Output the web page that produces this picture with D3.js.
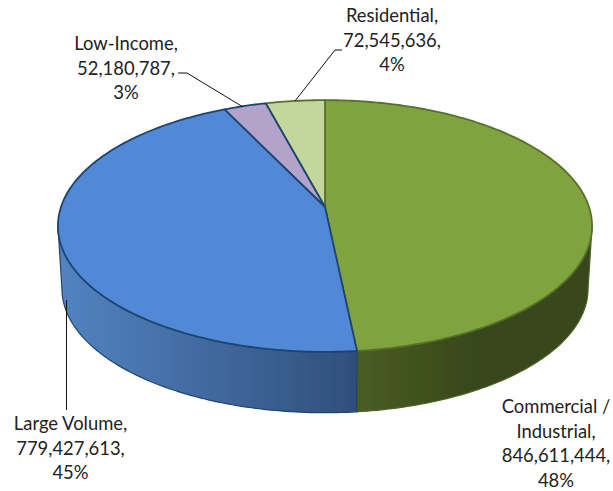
<!DOCTYPE html>
<html>
<head>
<meta charset="utf-8">
<script src="https://cdn.jsdelivr.net/npm/d3@7"></script>
<style>
  html, body { margin: 0; padding: 0; background: #fff; }
  text { font-family: Lato, "Open Sans", sans-serif; font-size: 18.4px; fill: #222; }
</style>
</head>
<body>
<svg id="chart" width="613" height="491"></svg>
<script>
const categories = ['Commercial / Industrial', 'Large Volume', 'Low-Income', 'Residential'];
const values = [846611444, 779427613, 52180787, 72545636];
const percents = ['48%', '45%', '3%', '4%'];
const topColors = ['#80a33f', '#5189d6', '#b3a2c9', '#c3d69b'];
const edgeColors = ['#55722a', '#1f4570', '#1f4570', '#55722a'];
const wallEdges = ['#4a6324', '#1f4570', '#1f4570', '#55722a'];
const sideStops = [
  ['#38471a', '#38471a', '#4a5d22'],
  ['#5383c2', '#41699f', '#2f4f7a'],
  ['#5a4a70', '#5a4a70', '#5a4a70'],
  ['#6c7a40', '#6c7a40', '#6c7a40']
];
const labelLines = [
  ['Commercial /', 'Industrial,', '846,611,444,', '48%'],
  ['Large Volume,', '779,427,613,', '45%'],
  ['Low-Income,', '52,180,787,', '3%'],
  ['Residential,', '72,545,636,', '4%']
];
const labelPos = [[556, 413], [70.5, 430], [126, 50], [392, 22]];
const leaders = [
  null,
  [[66.5, 300], [66.5, 410]],
  [[178, 73], [187, 73], [243, 107]],
  [[342, 50], [335, 50], [295, 101]]
];

const svg = d3.select('#chart');
const defs = svg.append('defs');

// perspective view of the pie disc: angle -> screen point
const cx = 325, cy = 207, kP = 0.151, rX = 264, rY = 123, depth = 63;
function project(a, shrink = 1, dy = 0) {
  const u = Math.sin(a), v = -Math.cos(a);
  const w = 1 - kP * v;
  return [cx + shrink * rX * u / w, cy + dy + shrink * rY * v / w];
}
function arcPoints(a0, a1, shrink, dy) {
  const n = Math.max(2, Math.ceil(Math.abs(a1 - a0) * 60));
  return d3.range(n + 1).map(i => project(a0 + (a1 - a0) * i / n, shrink, dy));
}
const line = d3.line();

const arcs = d3.pie().sort(null)(values);

defs.append('filter').attr('id', 'aa').append('feGaussianBlur').attr('stdDeviation', 0.4);

const pie = svg.append('g').attr('filter', 'url(#aa)');

// side wall runs between the two widest points of the disc
const frontFrom = Math.acos(-kP), frontTo = 2 * Math.PI - frontFrom;
const sideShrink = 0.985;
arcs.forEach((d, i) => {
  const a0 = Math.max(d.startAngle, frontFrom), a1 = Math.min(d.endAngle, frontTo);
  if (a1 <= a0) return;
  const top = arcPoints(a0, a1, 1, 0);
  const bottom = arcPoints(a1, a0, sideShrink, depth);
  const xs = top.concat(bottom).map(p => p[0]);
  const grad = defs.append('linearGradient').attr('id', 'side' + i)
    .attr('gradientUnits', 'userSpaceOnUse')
    .attr('x1', i === 1 ? d3.min(xs) : d3.max(xs)).attr('y1', 0)
    .attr('x2', i === 1 ? d3.max(xs) : d3.min(xs)).attr('y2', 0);
  sideStops[i].forEach((c, j) => {
    grad.append('stop').attr('offset', j / 2).attr('stop-color', c);
  });
  pie.append('path')
    .attr('d', line(top.concat(bottom)) + 'Z')
    .attr('fill', `url(#side${i})`)
    .attr('stroke', wallEdges[i])
    .attr('stroke-width', 1.2)
    .attr('stroke-linejoin', 'round');
});

// top faces; blue last so its dark edge sits on the neighbours like in the picture
[0, 3, 2, 1].forEach(i => {
  const d = arcs[i];
  const pts = [[cx, cy]].concat(arcPoints(d.startAngle, d.endAngle, 1, 0));
  pie.append('path')
    .attr('d', line(pts) + 'Z')
    .attr('fill', topColors[i])
    .attr('stroke', edgeColors[i])
    .attr('stroke-width', 1.8)
    .attr('stroke-linejoin', 'round');
});

// leader lines
svg.selectAll('path.leader')
  .data(leaders.filter(Boolean))
  .enter().append('path')
  .attr('class', 'leader')
  .attr('d', d => line(d))
  .attr('fill', 'none')
  .attr('stroke', '#111')
  .attr('stroke-width', 1);

// labels
labelLines.forEach((lines, i) => {
  const t = svg.append('text')
    .attr('text-anchor', 'middle')
    .attr('data-category', categories[i])
    .attr('data-percent', percents[i]);
  lines.forEach((s, j) => {
    t.append('tspan')
      .attr('x', labelPos[i][0])
      .attr('y', labelPos[i][1] + j * 24.6)
      .text(s);
  });
});
</script>
</body>
</html>
